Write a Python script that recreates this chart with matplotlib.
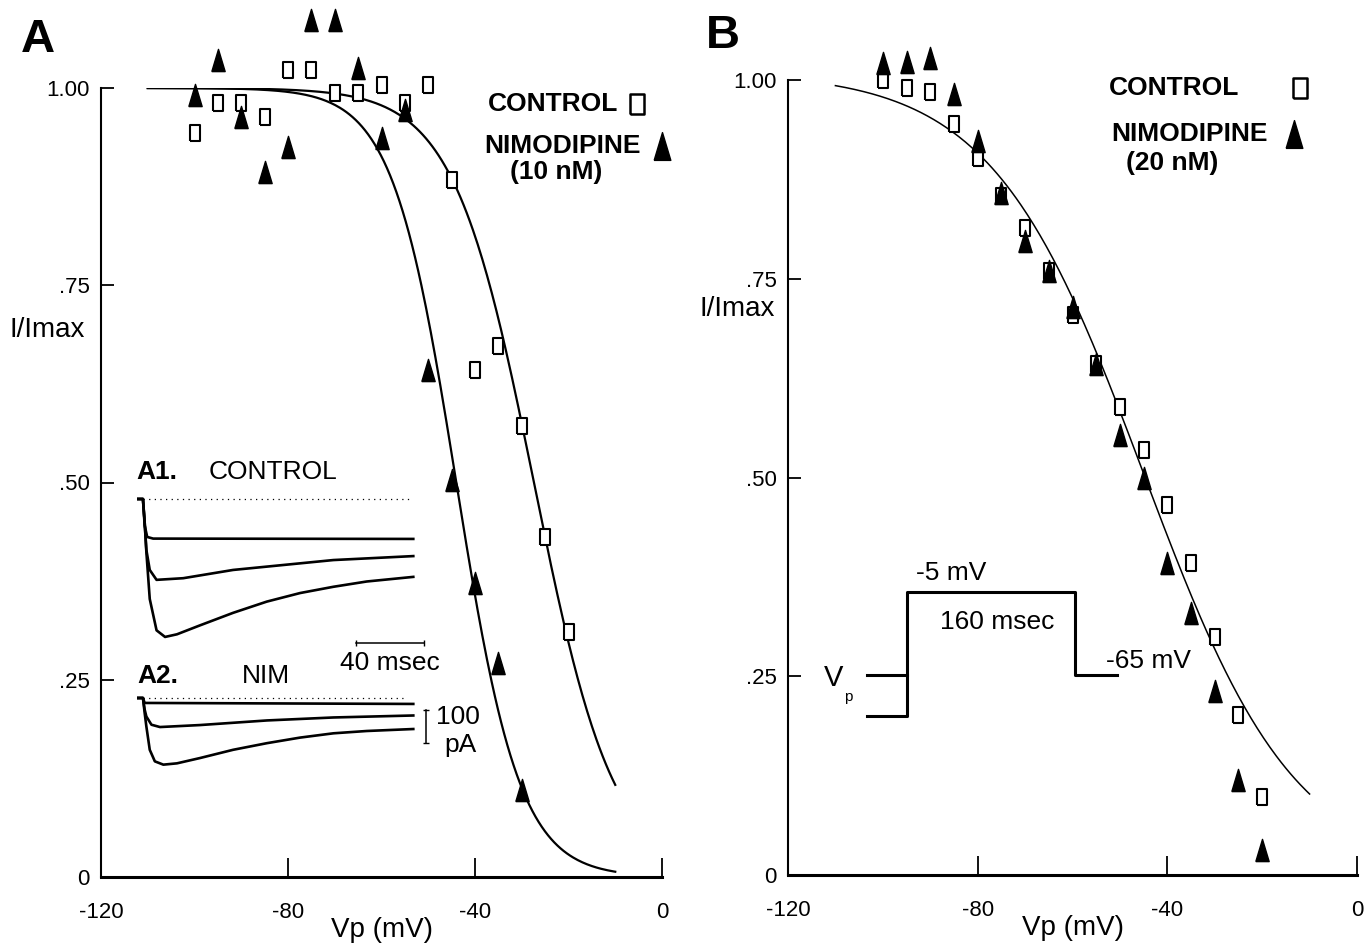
import numpy as np
import matplotlib
matplotlib.use('Agg')
import matplotlib.pyplot as plt
from matplotlib import font_manager

# ---- data ----
# panel A (10 nM nimodipine)
vp_a = [-100, -95, -90, -85, -80, -75, -70, -65, -60, -55, -50, -45, -40, -35, -30, -25, -20]
ctrl_a = [0.943, 0.981, 0.981, 0.963, 1.023, 1.023, 0.994, 0.994, 1.004, 0.981, 1.004,
          0.883, 0.643, 0.673, 0.572, 0.431, 0.311]
vp_a_nim = [-100, -95, -90, -85, -80, -75, -70, -65, -60, -55, -50, -45, -40, -35, -30]
nim_a = [0.991, 1.035, 0.963, 0.894, 0.925, 1.086, 1.086, 1.025, 0.937, 0.972,
         0.643, 0.503, 0.373, 0.271, 0.110]

# panel B (20 nM nimodipine)
vp_b = [-100, -95, -90, -85, -80, -75, -70, -65, -60, -55, -50, -45, -40, -35, -30, -25, -20]
ctrl_b = [1.000, 0.990, 0.985, 0.945, 0.902, 0.854, 0.814, 0.760, 0.705, 0.643, 0.589,
          0.535, 0.465, 0.392, 0.299, 0.201, 0.098]
nim_b = [1.021, 1.023, 1.028, 0.982, 0.923, 0.858, 0.798, 0.760, 0.714, 0.643, 0.553,
         0.500, 0.393, 0.330, 0.231, 0.119, 0.031]

# Boltzmann fits (amplitude, V1/2, slope k) and their drawn range
fit_a_ctrl = (1.0, -27.4, 8.6)
fit_a_nim = (1.0, -44.0, 6.8)
fit_b = (1.01, -45.0, 16.0)
range_a = (-110, -10)
range_b = (-110, -10)

# inset current traces (time in msec, current in pA)
a1_t = [[-3.5, 0, 1, 2.5, 6, 159],
        [-3.5, 0, 1, 2, 4, 8, 23.7, 53, 82.5, 112, 159],
        [-3.5, 0, 1, 2, 4, 8, 13, 20, 33.5, 53, 72.8, 92.4, 112, 131.6, 159]]
a1_i = [[0, 0, -80, -115, -120, -121],
        [0, 0, -70, -154, -215, -245, -240, -215, -200, -185, -173],
        [0, 0, -70, -160, -303, -398, -418, -410, -383, -345, -311, -285, -266, -250, -236]]
a2_t = [[-3.5, 0, 1, 159],
        [-3.5, 0, 1, 2, 5, 10, 33.5, 73, 112, 159],
        [-3.5, 0, 1, 2, 4, 7, 12, 20, 33.5, 53, 72.8, 92.4, 112, 131.6, 159]]
a2_i = [[0, 0, -15, -18],
        [0, 0, -35, -56, -81, -88, -82, -68, -59, -53],
        [0, 0, -45, -86, -157, -192, -202, -198, -182, -157, -137, -120, -107, -100, -94]]

# voltage protocol for panel B (msec, mV)
prot_t = [-38, 0, 0, 160, 160, 200]
prot_v = [-95, -95, -5, -5, -65, -65]
prot_vp_hi = -65

# ---- fonts ----
names = {f.name for f in font_manager.fontManager.ttflist}
narrow = 'Liberation Sans Narrow' if 'Liberation Sans Narrow' in names else 'Liberation Sans'
plt.rcParams['font.family'] = 'Liberation Sans'

W, H = 1367, 944
fig = plt.figure(figsize=(W / 100, H / 100), dpi=100)


def fpos(px, py):
    return px / W, 1 - py / H


def frect(x0, y0, x1, y1):
    return [x0 / W, 1 - y1 / H, (x1 - x0) / W, (y1 - y0) / H]


def boltz(v, p):
    amp, vh, k = p
    return amp / (1 + np.exp((v - vh) / k))


sq = [(-0.33, -0.5), (0.33, -0.5), (0.33, 0.5), (-0.33, 0.5), (-0.33, -0.5)]
tri = [(-0.3, -0.5), (0.3, -0.5), (0, 0.5), (-0.3, -0.5)]


def style_axes(ax):
    ax.set_xlim(-120, 0)
    ax.set_ylim(0, 1)
    for s in ['top', 'right']:
        ax.spines[s].set_visible(False)
    ax.spines['bottom'].set_linewidth(2.2)
    ax.spines['left'].set_linewidth(1.5)
    ax.set_xticks([-120, -80, -40, 0])
    ax.set_xticklabels(['-120', '-80', '-40', '0'], fontfamily=narrow, fontsize=16)
    ax.set_yticks([0, 0.25, 0.5, 0.75, 1.0])
    ax.set_yticklabels(['0', '.25', '.50', '.75', '1.00'], fontfamily=narrow, fontsize=16)
    ax.tick_params(axis='x', direction='in', length=14, width=1.3, pad=18)
    ax.tick_params(axis='y', direction='in', length=9, width=1.3, pad=8)
    ax.set_xlabel('Vp (mV)', fontfamily=narrow, fontsize=20, labelpad=-4)
    ax.patch.set_visible(False)


def legend_block(ax, xt, xm, ys, conc):
    kw = dict(transform=ax.transAxes, ha='center', va='center',
              fontfamily=narrow, fontweight='bold', fontsize=19)
    ax.text(xt[0], ys[0], 'CONTROL', **kw)
    ax.text(xt[1], ys[1], 'NIMODIPINE', **kw)
    ax.text(xt[2], ys[2], conc, **kw)
    ax.plot([xm[0]], [ys[0]], marker=sq, ms=15, mfc='white', mec='black', mew=1.8,
            transform=ax.transAxes, clip_on=False)
    ax.plot([xm[1]], [ys[1]], marker=tri, ms=20, color='black',
            transform=ax.transAxes, clip_on=False)


# ---------------- panel A ----------------
axA = fig.add_axes(frect(101, 88, 662, 877))
style_axes(axA)
v = np.linspace(range_a[0], range_a[1], 300)
axA.plot(v, boltz(v, fit_a_ctrl), color='black', lw=1.6)
axA.plot(v, boltz(v, fit_a_nim), color='black', lw=1.6)
axA.plot(vp_a, ctrl_a, ls='none', marker=sq, ms=11, mfc='white', mec='black', mew=1.5,
         clip_on=False)
axA.plot(vp_a_nim, nim_a, ls='none', marker=tri, ms=16, color='black', clip_on=False)
axA.set_ylabel('I/Imax', rotation=0, fontsize=20, ha='center', va='center')
axA.yaxis.set_label_coords(-0.096, 0.693)
legend_block(axA, [0.806, 0.822, 0.811], [0.955, 1.0], [0.980, 0.927, 0.893], '(10 nM)')
fig.text(*fpos(38, 40), 'A', fontsize=34, fontweight='bold', ha='center', va='center')

# inset A1 (control traces)
ax1 = fig.add_axes(frect(137, 460, 430, 650))
ax1.set_xlim(-3.5, (430 - 143) / 1.7)
ax1.set_ylim(-(650 - 499) / 0.33, (499 - 460) / 0.33)
ax1.axis('off')
ax1.plot([0, 159], [0, 0], color='black', lw=0.9, ls=(0, (1, 3.5)))
for t, i in zip(a1_t, a1_i):
    ax1.plot(t, i, color='black', lw=1.9)
ax1.plot([125.3, 165.3], [-436, -436], color='black', lw=1.1, marker='|', ms=5)

# inset A2 (nimodipine traces)
ax2 = fig.add_axes(frect(137, 680, 430, 780))
ax2.set_xlim(-3.5, (430 - 143) / 1.7)
ax2.set_ylim(-(780 - 698) / 0.33, (698 - 680) / 0.33)
ax2.axis('off')
ax2.plot([0, 154], [0, 0], color='black', lw=0.9, ls=(0, (1, 3.5)))
for t, i in zip(a2_t, a2_i):
    ax2.plot(t, i, color='black', lw=1.9)
ax2.plot([166.5, 166.5], [-36, -136], color='black', lw=1.1, marker='_', ms=5)

fig.text(*fpos(157, 472), 'A1.', fontsize=19, fontweight='bold', ha='center', va='center')
fig.text(*fpos(273, 472), 'CONTROL', fontsize=19, ha='center', va='center')
fig.text(*fpos(158, 676), 'A2.', fontsize=19, fontweight='bold', ha='center', va='center')
fig.text(*fpos(266, 676), 'NIM', fontsize=19, ha='center', va='center')
fig.text(*fpos(390, 663), '40 msec', fontsize=19, ha='center', va='center')
fig.text(*fpos(458, 717), '100', fontsize=19, ha='center', va='center')
fig.text(*fpos(460, 745), 'pA', fontsize=19, ha='center', va='center')

# ---------------- panel B ----------------
axB = fig.add_axes(frect(788, 80, 1357, 875))
style_axes(axB)
v = np.linspace(range_b[0], range_b[1], 300)
axB.plot(v, boltz(v, fit_b), color='black', lw=1.1)
axB.plot(vp_b, ctrl_b, ls='none', marker=sq, ms=11, mfc='white', mec='black', mew=1.5,
         clip_on=False)
axB.plot(vp_b, nim_b, ls='none', marker=tri, ms=16, color='black', clip_on=False)
axB.set_ylabel('I/Imax', rotation=0, fontsize=20, ha='center', va='center')
axB.yaxis.set_label_coords(-0.089, 0.712)
legend_block(axB, [0.678, 0.705, 0.675], [0.9, 0.89], [0.990, 0.932, 0.895], '(20 nM)')
fig.text(*fpos(723, 36), 'B', fontsize=34, fontweight='bold', ha='center', va='center')

# voltage protocol
axP = fig.add_axes(frect(850, 570, 1130, 740))
axP.set_xlim((850 - 907) / 1.05, (1130 - 907) / 1.05)
axP.set_ylim(-5 - (740 - 592) / 1.383, -5 + (592 - 570) / 1.383)
axP.axis('off')
axP.plot(prot_t, prot_v, color='black', lw=2.2)
axP.plot([prot_t[0], 0], [prot_vp_hi, prot_vp_hi], color='black', lw=2.2)
fig.text(*fpos(951, 573), '-5 mV', fontsize=19, ha='center', va='center')
fig.text(*fpos(997, 622), '160 msec', fontsize=19, ha='center', va='center')
fig.text(*fpos(1148, 661), '-65 mV', fontsize=19, ha='center', va='center')
fig.text(*fpos(834, 678), 'V', fontsize=21, ha='center', va='center')
fig.text(*fpos(848, 697), 'p', fontsize=11, ha='center', va='center')

fig.savefig('out.png', dpi=100)
